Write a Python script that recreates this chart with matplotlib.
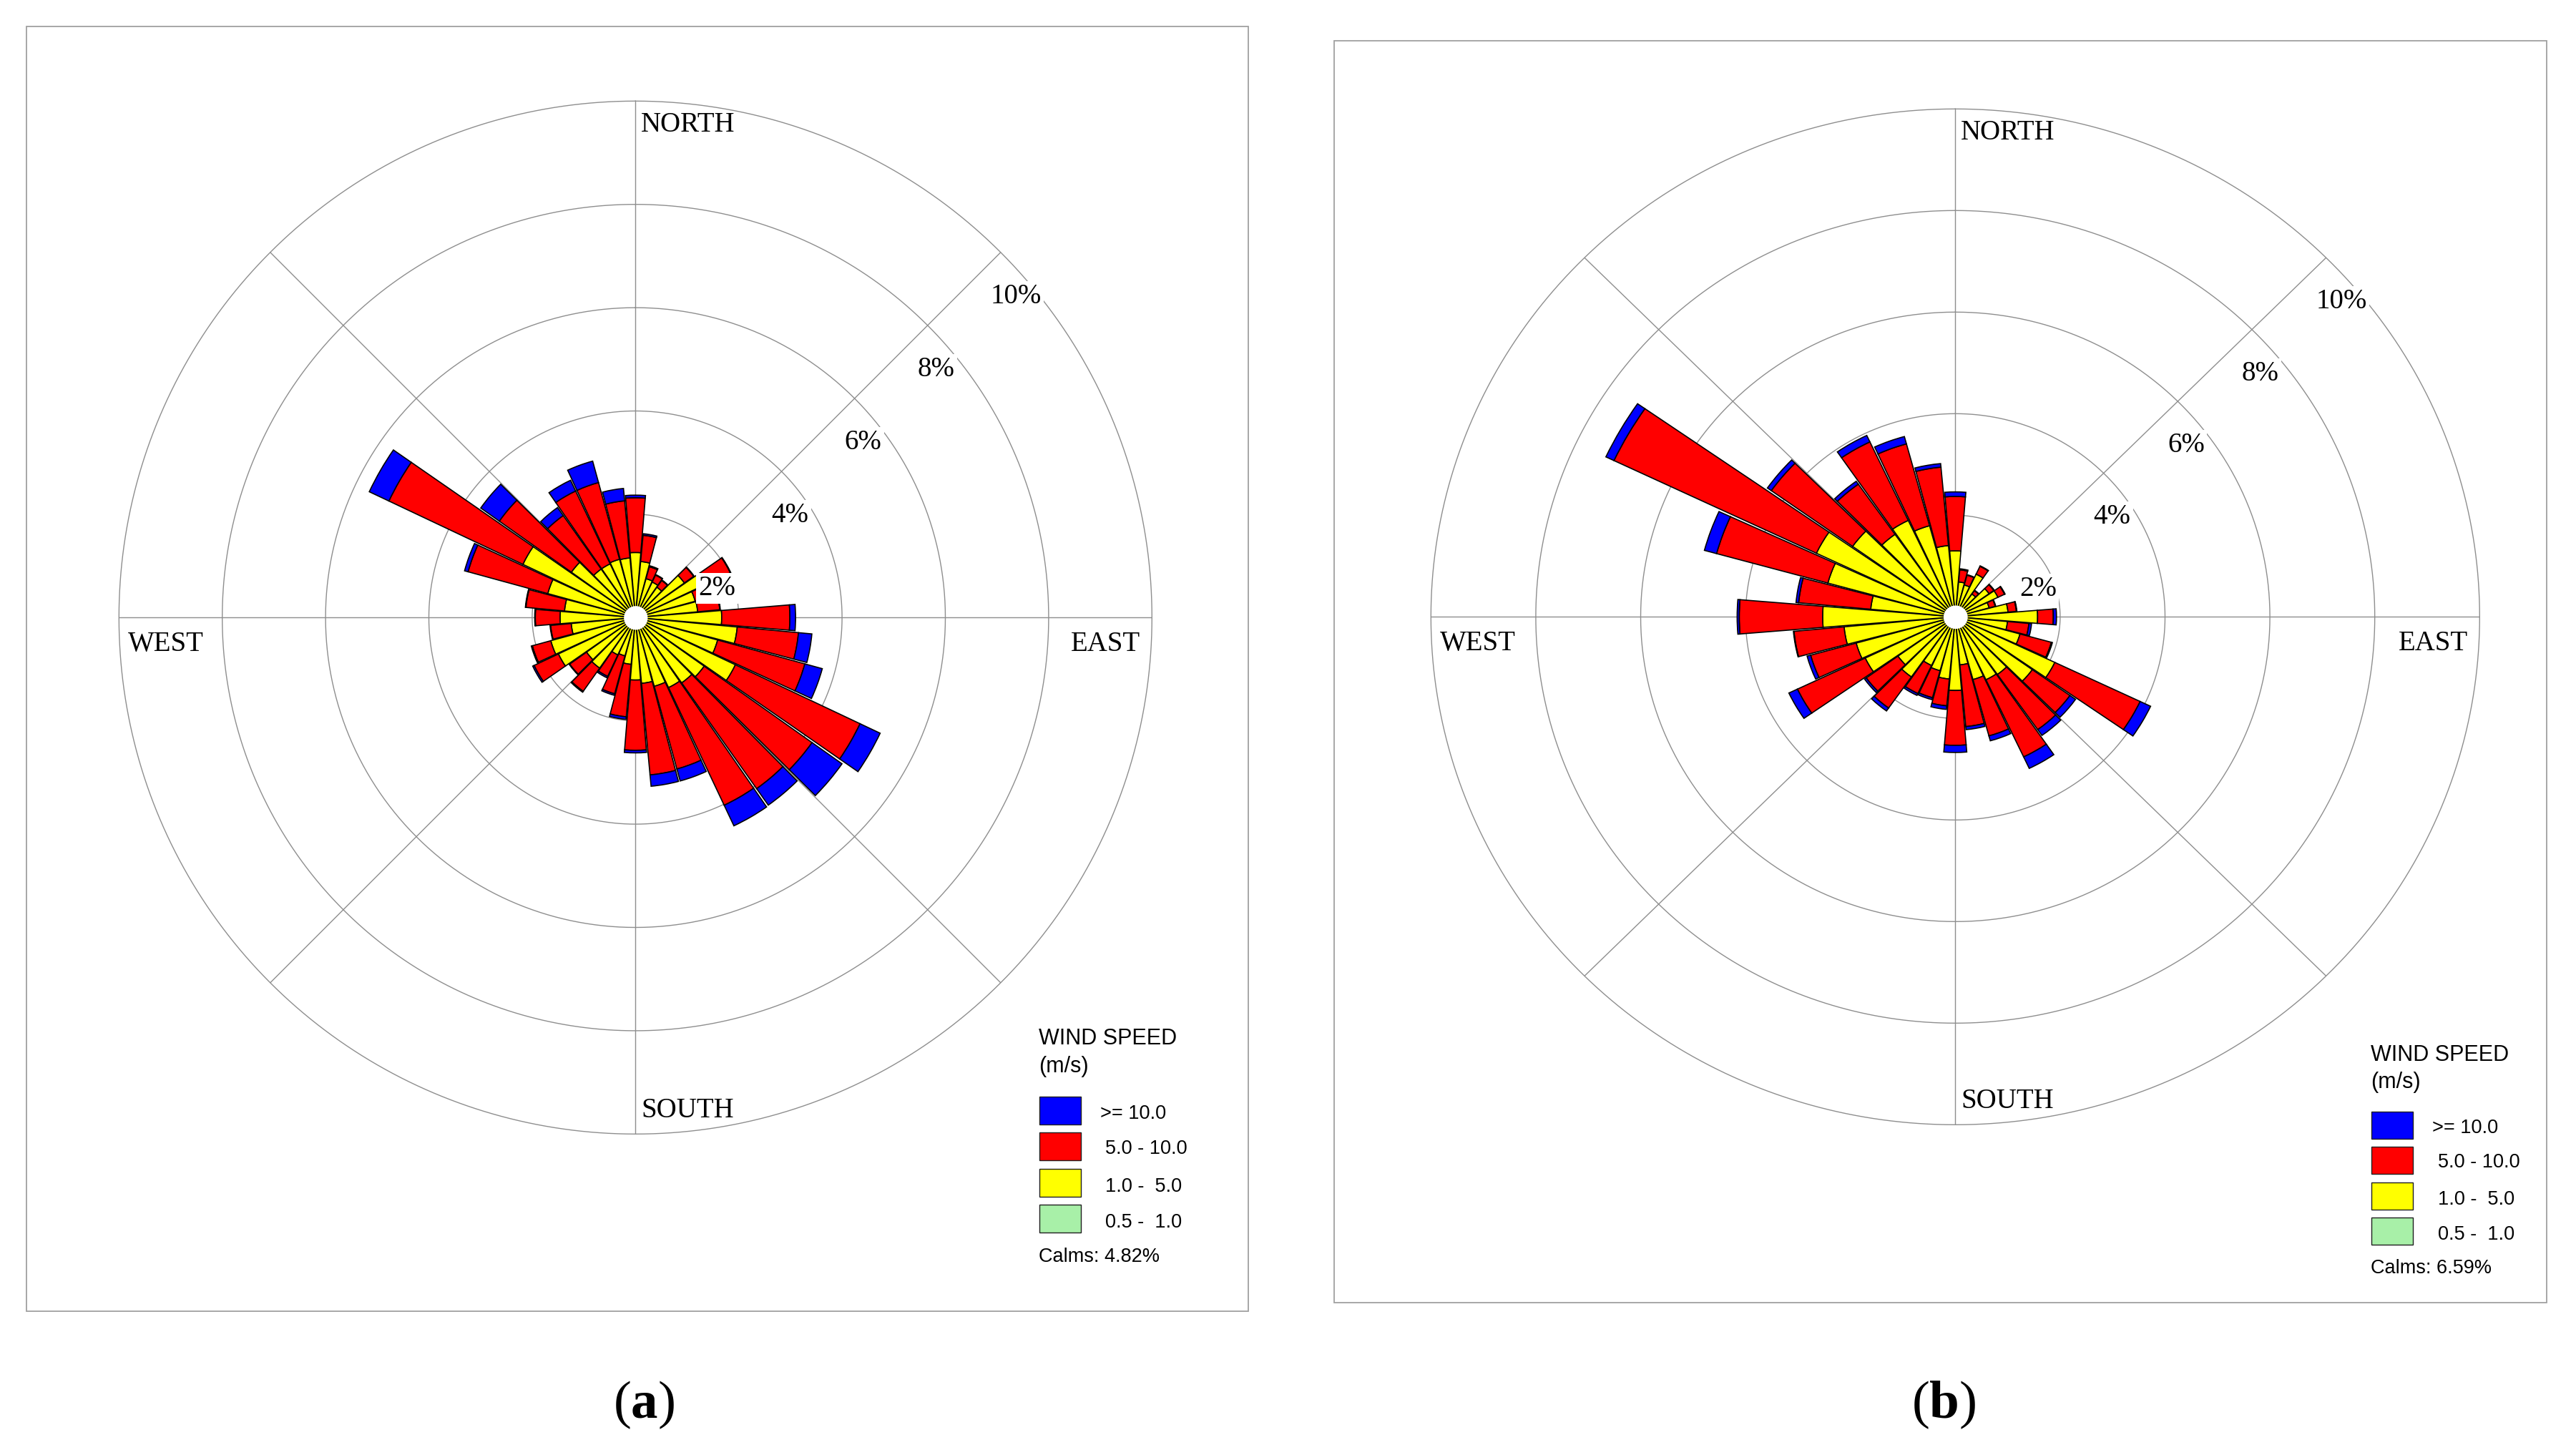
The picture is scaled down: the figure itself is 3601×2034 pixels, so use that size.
import numpy as np
import matplotlib.pyplot as plt
from matplotlib.patches import Rectangle

plt.rcParams['mathtext.fontset'] = 'custom'
plt.rcParams['mathtext.rm'] = 'Liberation Serif'
plt.rcParams['mathtext.bf'] = 'Liberation Serif:bold'

# wind directions (degrees from north, clockwise)
directions = np.arange(0, 360, 10)

# frequencies (%) per speed class, panel (a)
a_05_10 = [0.05, 0.04, 0.03, 0.03, 0.03, 0.04, 0.05, 0.04, 0.04, 0.05, 0.06, 0.05,
           0.06, 0.05, 0.05, 0.05, 0.04, 0.04, 0.04, 0.03, 0.03, 0.03, 0.04, 0.04,
           0.05, 0.05, 0.04, 0.05, 0.04, 0.05, 0.06, 0.05, 0.04, 0.04, 0.04, 0.04]
a_10_50 = [1.21, 1.05, 0.75, 0.73, 0.69, 1.12, 1.40, 1.16, 1.17, 1.62, 1.92, 1.60,
           2.08, 1.58, 1.50, 1.45, 1.34, 1.24, 1.17, 0.88, 0.74, 0.77, 1.16, 1.12,
           1.60, 1.65, 1.21, 1.41, 1.34, 1.71, 2.35, 1.47, 1.11, 1.11, 1.13, 1.12]
a_50_100 = [1.06, 0.51, 0.24, 0.15, 0.16, 0.22, 0.58, 0.35, 0.43, 1.32, 1.19, 1.75,
            2.67, 2.56, 2.51, 2.52, 1.66, 1.78, 1.36, 1.02, 0.76, 0.46, 0.55, 0.40,
            0.52, 0.37, 0.40, 0.48, 0.75, 1.60, 2.87, 1.71, 1.27, 1.56, 1.54, 1.11]
a_ge_100 = [0.05, 0.03, 0.02, 0.01, 0.01, 0.01, 0.01, 0.01, 0.01, 0.11, 0.26, 0.35,
            0.43, 0.71, 0.39, 0.44, 0.24, 0.22, 0.05, 0.05, 0.03, 0.03, 0.02, 0.01,
            0.03, 0.02, 0.01, 0.01, 0.01, 0.07, 0.42, 0.44, 0.19, 0.23, 0.43, 0.24]
a_calms = 4.82

# frequencies (%) per speed class, panel (b)
b_05_10 = [0.05, 0.03, 0.03, 0.03, 0.03, 0.03, 0.03, 0.03, 0.04, 0.05, 0.04, 0.04,
           0.06, 0.05, 0.05, 0.05, 0.04, 0.04, 0.05, 0.04, 0.04, 0.04, 0.05, 0.05,
           0.06, 0.06, 0.06, 0.07, 0.05, 0.07, 0.08, 0.07, 0.06, 0.06, 0.05, 0.05]
b_10_50 = [1.25, 0.66, 0.62, 0.90, 0.52, 0.76, 0.87, 0.64, 0.97, 1.52, 0.96, 1.24,
           2.04, 1.75, 1.34, 1.32, 1.24, 0.91, 1.40, 1.19, 1.06, 1.02, 1.40, 1.29,
           1.84, 1.90, 2.07, 2.46, 1.57, 2.45, 2.85, 2.33, 1.93, 2.04, 1.81, 1.36]
b_50_100 = [1.07, 0.24, 0.20, 0.17, 0.08, 0.11, 0.14, 0.12, 0.16, 0.30, 0.41, 0.62,
            1.80, 0.88, 1.33, 1.68, 1.15, 1.22, 1.08, 0.53, 0.55, 0.61, 0.75, 0.74,
            1.43, 0.90, 0.96, 1.59, 1.38, 2.20, 4.27, 1.90, 1.21, 1.71, 1.67, 1.55]
b_ge_100 = [0.09, 0.02, 0.01, 0.01, 0.01, 0.01, 0.01, 0.01, 0.01, 0.06, 0.05, 0.02,
            0.22, 0.13, 0.14, 0.25, 0.10, 0.06, 0.14, 0.07, 0.04, 0.04, 0.07, 0.04,
            0.18, 0.07, 0.01, 0.04, 0.05, 0.24, 0.17, 0.09, 0.07, 0.14, 0.15, 0.07]
b_calms = 6.59

ring_levels = [2, 4, 6, 8, 10]
class_labels = ['>= 10.0', '5.0 - 10.0', '1.0 -  5.0', '0.5 -  1.0']
class_colors = ['#0000ff', '#ff0000', '#ffff00', '#a8f0a8']

W, H = 3601, 2034
fig = plt.figure(figsize=(W / 100, H / 100), dpi=100)
fig.patch.set_facecolor('white')

SERIF = 'Liberation Serif'
SANS = 'Liberation Sans'
GRID = '#8e8e8e'


def fx(x):
    return x / W


def fy(y):
    return 1 - y / H


def wind_rose(cx, cy, rx, ry, classes):
    ax = fig.add_axes([fx(cx - rx), fy(cy + ry), 2 * rx / W, 2 * ry / H],
                      projection='polar')
    ax.set_aspect('auto')
    ax.set_theta_zero_location('N')
    ax.set_theta_direction(-1)
    ax.set_ylim(0, 10)
    ax.set_xticks([])
    ax.set_yticks([])
    ax.grid(False)
    ax.spines['polar'].set_visible(False)
    ax.patch.set_visible(False)

    tt = np.linspace(0, 2 * np.pi, 721)
    for r in ring_levels:
        ax.plot(tt, np.full_like(tt, r), color=GRID, lw=1.0, zorder=1, clip_on=False)
    for ang in range(0, 360, 45):
        ax.plot([np.deg2rad(ang)] * 2, [0, 10], color=GRID, lw=1.0, zorder=1)

    theta = np.deg2rad(directions)
    bottom = np.zeros(len(directions))
    # stack from slowest class outward
    for vals, color in zip(classes, class_colors[::-1]):
        vals = np.asarray(vals)
        ax.bar(theta, vals, width=np.deg2rad(9.4), bottom=bottom, color=color,
               edgecolor='black', linewidth=1.2, zorder=3)
        bottom = bottom + vals

    ax.fill_between(tt, 0, 0.23, color='white', zorder=5, lw=0)

    for r in ring_levels:
        ax.annotate(f'{r}%', xy=(np.deg2rad(45), r), xytext=(-14, -43),
                    textcoords='offset pixels', ha='left', va='top',
                    fontsize=28, family=SERIF, zorder=6, annotation_clip=False,
                    bbox=dict(boxstyle='square,pad=0.08', fc='white', ec='none'))

    kw = dict(textcoords='offset pixels', fontsize=28, family=SERIF,
              annotation_clip=False, zorder=6)
    ax.annotate('NORTH', xy=(0, 10), xytext=(8, -15), ha='left', va='top', **kw)
    ax.annotate('SOUTH', xy=(np.pi, 10), xytext=(8, 14), ha='left', va='bottom', **kw)
    ax.annotate('WEST', xy=(1.5 * np.pi, 10), xytext=(13, -19), ha='left', va='top', **kw)
    ax.annotate('EAST', xy=(0.5 * np.pi, 10), xytext=(-16, -19), ha='right', va='top', **kw)
    return ax


def legend(x0, ymap, calms):
    fig.text(fx(x0), fy(ymap(1460)), 'WIND SPEED', fontsize=22, family=SANS,
             ha='left', va='baseline')
    fig.text(fx(x0), fy(ymap(1499)), '(m/s)', fontsize=22, family=SANS,
             ha='left', va='baseline')
    tops = [1533, 1583, 1634, 1684]
    bases = [1564, 1613, 1666, 1716]
    lefts = [1538 - 1451.7, 1545 - 1451.7, 1545 - 1451.7, 1545 - 1451.7]
    for lab, col, t, bl, dx in zip(class_labels, class_colors, tops, bases, lefts):
        y1 = ymap(t)
        y2 = ymap(t + 39)
        fig.patches.append(Rectangle((fx(x0 + 1), fy(y2)), 58 / W, (y2 - y1) / H,
                                     transform=fig.transFigure, facecolor=col,
                                     edgecolor='#202020', lw=1.0))
        fig.text(fx(x0 + dx), fy(ymap(bl)), lab, fontsize=19.5, family=SANS,
                 ha='left', va='baseline')
    fig.text(fx(x0), fy(ymap(1764)), f'Calms: {calms:.2f}%', fontsize=19.5,
             family=SANS, ha='left', va='baseline')


def frame(x1, y1, x2, y2):
    fig.patches.append(Rectangle((fx(x1), fy(y2)), (x2 - x1) / W, (y2 - y1) / H,
                                 transform=fig.transFigure, fill=False,
                                 edgecolor='#a0a0a0', lw=1.3))


frame(37, 37, 1745, 1833)
frame(1865, 57, 3560, 1821)

wind_rose(888.3, 863.3, 722, 722, [a_05_10, a_10_50, a_50_100, a_ge_100])
wind_rose(2733.3, 862.3, 733, 710, [b_05_10, b_10_50, b_50_100, b_ge_100])

legend(1451.7, lambda y: y, a_calms)
legend(1451.7 + 1862.5, lambda y: 0.977 * y + 56.3, b_calms)

fig.text(fx(900), fy(1964), r'($\mathbf{a}$)', fontsize=54, family=SERIF,
         ha='center', va='center')
fig.text(fx(2717), fy(1964), r'($\mathbf{b}$)', fontsize=54, family=SERIF,
         ha='center', va='center')

fig.savefig('out.png', dpi=100, facecolor='white')
